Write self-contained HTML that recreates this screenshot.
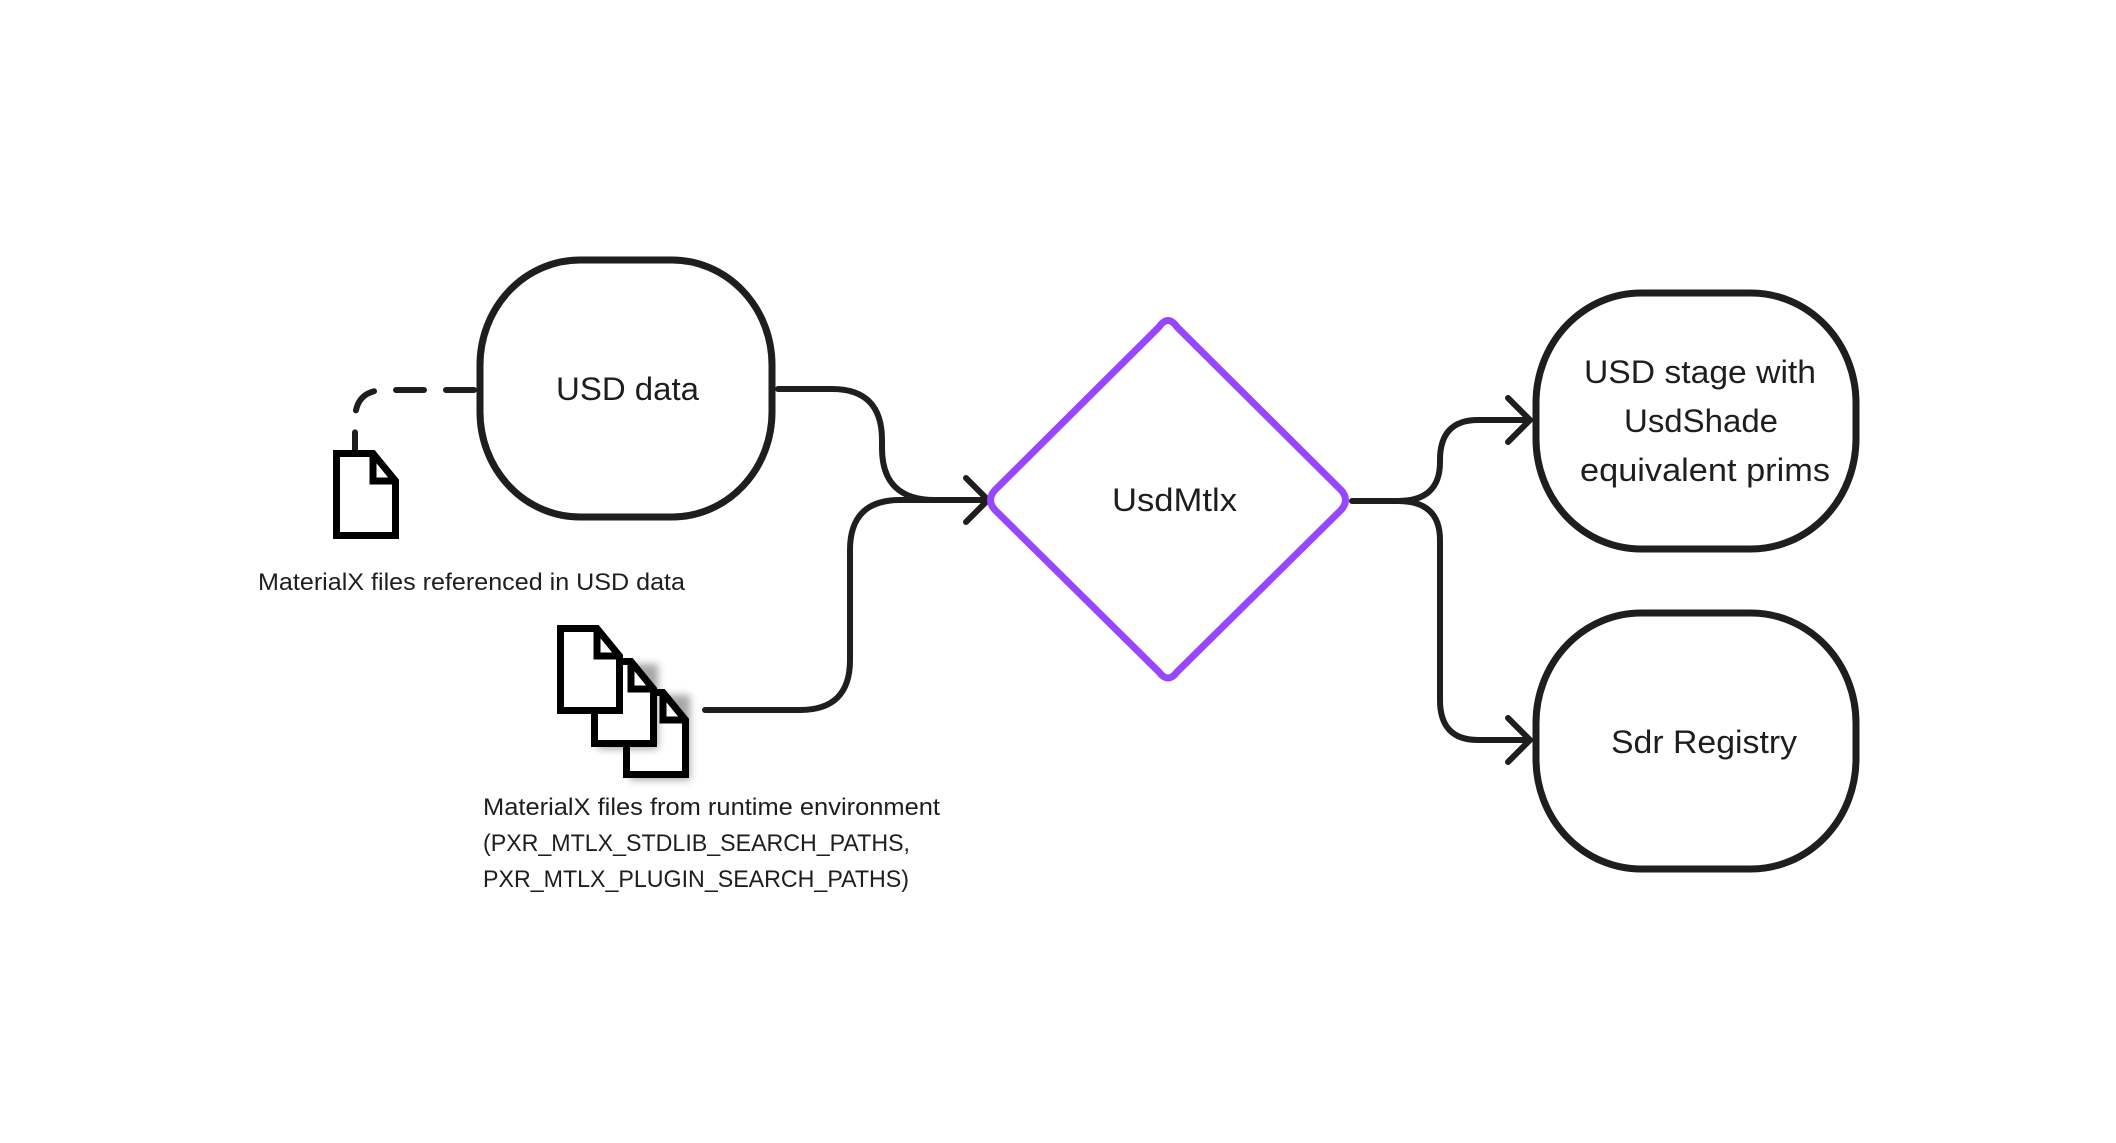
<!DOCTYPE html>
<html><head><meta charset="utf-8"><style>
html,body{margin:0;padding:0;background:#fff;}
svg{display:block;}
text{font-family:"Liberation Sans",sans-serif;fill:#1e1e1e;}
</style></head><body>
<svg width="2116" height="1143" viewBox="0 0 2116 1143" xmlns="http://www.w3.org/2000/svg">
<defs>
<symbol id="doc" viewBox="0 0 66 89" width="66" height="89">
<path d="M3.5 3.5 H40 L62.5 31 V85.5 H3.5 Z" fill="#fff" stroke="#000" stroke-width="7" stroke-linejoin="miter"/>
<path d="M40 3.5 V31 H62.5" fill="none" stroke="#000" stroke-width="7"/>
</symbol>
<filter id="sh" x="-30%" y="-30%" width="160%" height="160%"><feGaussianBlur stdDeviation="4"/></filter>
</defs>

<g fill="none" stroke="#1e1e1e" stroke-width="6" stroke-linecap="round" stroke-linejoin="round">
<path d="M778 389 H832 Q882 389 882 440 V448 Q882 500 935 500 H986"/>
<path d="M705 710 H800 Q850 710 850 660 V550 Q850 500 900 500 H986"/>
<path d="M966 478 L988 500 L966 522"/>
<path d="M1352 501 H1398 Q1440 501 1440 462 V460 Q1440 420 1478 420 H1527"/>
<path d="M1398 501 Q1440 501 1440 540 V700 Q1440 740 1478 740 H1527"/>
<path d="M1508 398 L1530 420 L1508 442"/>
<path d="M1508 718 L1530 740 L1508 762"/>
<path d="M474 390 H385 Q355 390 355 420 V450" stroke-dasharray="28 22"/>
</g>

<g fill="#fff" stroke="#1e1e1e" stroke-width="7">
<rect x="480" y="260" width="292" height="257" rx="100" ry="105"/>
<rect x="1536" y="293" width="320" height="256" rx="105" ry="110"/>
<rect x="1536" y="613" width="320" height="256" rx="105" ry="110"/>
</g>
<path d="M1159 327 Q1168 314 1177 327 L1341 490 Q1350 500 1341 510 L1177 672 Q1168 684 1159 672 L995 510 Q986 500 995 490 Z" fill="#fff" stroke="#9747ff" stroke-width="7" stroke-linejoin="round"/>

<use href="#doc" x="333" y="450"/>
<rect x="630" y="695" width="60" height="85" fill="#000" opacity="0.35" filter="url(#sh)"/>
<use href="#doc" x="623" y="689"/>
<rect x="598" y="664" width="60" height="85" fill="#000" opacity="0.35" filter="url(#sh)"/>
<use href="#doc" x="591" y="658"/>
<use href="#doc" x="557" y="625"/>

<g font-size="32">
<text x="556" y="400" textLength="143" lengthAdjust="spacingAndGlyphs">USD data</text>
<text x="1112" y="511" textLength="125" lengthAdjust="spacingAndGlyphs">UsdMtlx</text>
<text x="1584" y="383" textLength="232" lengthAdjust="spacingAndGlyphs">USD stage with</text>
<text x="1624" y="432" textLength="154" lengthAdjust="spacingAndGlyphs">UsdShade</text>
<text x="1580" y="481" textLength="250" lengthAdjust="spacingAndGlyphs">equivalent prims</text>
<text x="1611" y="753" textLength="186" lengthAdjust="spacingAndGlyphs">Sdr Registry</text>
</g>
<g font-size="24">
<text x="258" y="590" textLength="427" lengthAdjust="spacingAndGlyphs">MaterialX files referenced in USD data</text>
<text x="483" y="815" textLength="457" lengthAdjust="spacingAndGlyphs">MaterialX files from runtime environment</text>
<text x="483" y="851" textLength="427" lengthAdjust="spacingAndGlyphs">(PXR_MTLX_STDLIB_SEARCH_PATHS,</text>
<text x="483" y="887" textLength="426" lengthAdjust="spacingAndGlyphs">PXR_MTLX_PLUGIN_SEARCH_PATHS)</text>
</g>
</svg>
</body></html>
